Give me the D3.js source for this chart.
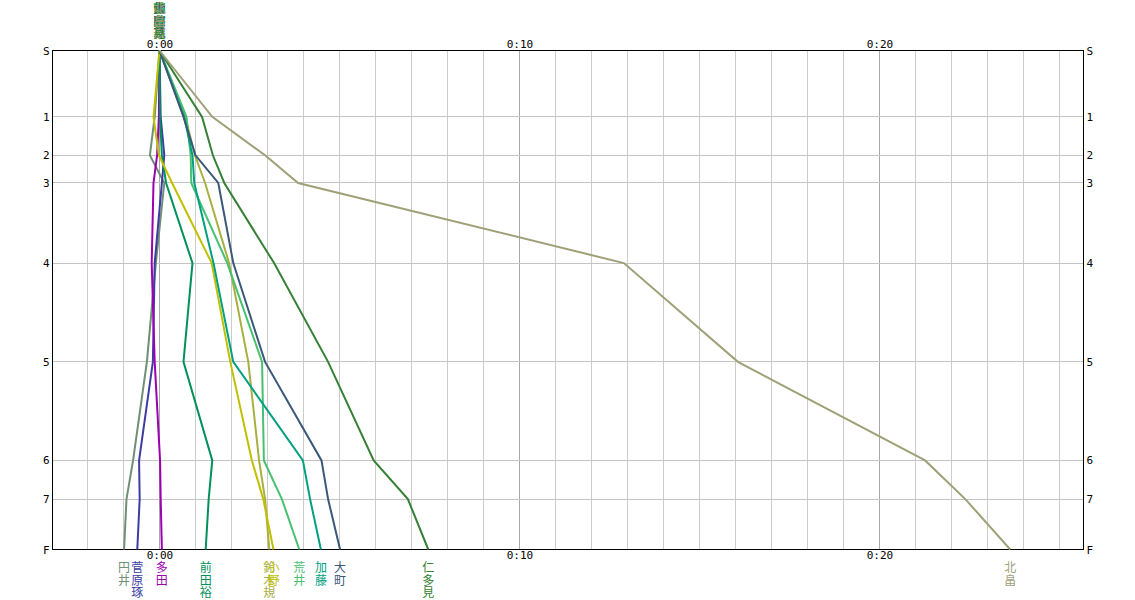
<!DOCTYPE html>
<html>
<head>
<meta charset="utf-8">
<script src="https://cdn.jsdelivr.net/npm/d3@7"></script>
<style>
  html, body { margin: 0; padding: 0; background: #ffffff; }
  svg { display: block; }
  .tick-lbl { font-family: "DejaVu Sans Mono", "Liberation Mono", monospace; font-size: 11px; fill: #000; }
  .name { font-family: "Noto Sans CJK JP", sans-serif; font-size: 12px; }
</style>
</head>
<body>
<svg id="chart" width="1135" height="600"></svg>
<script>
// ---- data ----
const checkpoints = ["S", "1", "2", "3", "4", "5", "6", "7", "F"];
// relative cumulative distance of each checkpoint (finish = 100)
const checkpointDist = [0, 13.3, 21.0, 26.55, 42.6, 62.4, 82.15, 89.9, 100];
const timeTicks = [0, 600, 1200];           // seconds -> 0:00, 0:10, 0:20
const runners = ["円井", "菅原琢", "多田", "前田裕", "鈴木規", "小野", "荒井", "加藤", "大町", "仁多見", "北畠"];
// gap (seconds) at each checkpoint
const gap円井   = [0, -8, -16, 8, -6, -21, -44, -55, -59];
const gap菅原琢 = [0, 2, 8, 4, -8, -11, -34, -33, -37];
const gap多田   = [0, -1, -4, -10, -13, -8, 1, 2, 4];
const gap前田裕 = [0, 1, 4, 11, 55, 40, 88, 82, 77];
const gap鈴木規 = [0, 43, 59, 76, 116, 148, 166, 176, 183];
const gap小野   = [0, -10, -1, 21, 87, 118, 154, 173, 190];
const gap荒井   = [0, 45, 52, 53, 113, 171, 174, 204, 233];
const gap加藤   = [0, 41, 55, 58, 90, 123, 239, 251, 269];
const gap大町   = [0, 40, 60, 98, 123, 176, 270, 281, 301];
const gap仁多見 = [0, 71, 89, 108, 191, 281, 357, 414, 448];
const gap北畠   = [0, 88, 176, 231, 774, 964, 1276, 1343, 1418];
const gaps = [gap円井, gap菅原琢, gap多田, gap前田裕, gap鈴木規, gap小野, gap荒井, gap加藤, gap大町, gap仁多見, gap北畠];

// ---- styles ----
const colors = ["#6f8f76", "#3c3ca4", "#9c00b0", "#00905a", "#a8b040", "#c0c000", "#48c070", "#00a080", "#3a5878", "#358035", "#a0a078"];

// ---- layout ----
const L = 52.5, R = 1083.5, T = 50.5, B = 549.5;
const svg = d3.select("#chart");
const x = d3.scaleLinear().domain([-178.3, 1540]).range([L, R]);
const y = d3.scaleLinear().domain([0, 100]).range([T, B]);

// vertical minute grid
const minuteTicks = d3.range(-120, 1541, 60);
svg.append("g").selectAll("line").data(minuteTicks).join("line")
  .attr("x1", d => Math.round(x(d)) + 0.5).attr("x2", d => Math.round(x(d)) + 0.5)
  .attr("y1", T).attr("y2", B)
  .attr("stroke", d => d % 600 === 0 ? "#a8a8a8" : "#cccccc")
  .attr("stroke-width", 1).attr("shape-rendering", "crispEdges");

// horizontal checkpoint grid
svg.append("g").selectAll("line").data(checkpointDist).join("line")
  .attr("x1", L).attr("x2", R)
  .attr("y1", d => Math.round(y(d) - 0.5) + 0.5).attr("y2", d => Math.round(y(d) - 0.5) + 0.5)
  .attr("stroke", "#c4c4c4").attr("stroke-width", 1).attr("shape-rendering", "crispEdges");

// frame
svg.append("rect").attr("x", L).attr("y", T).attr("width", R - L).attr("height", B - T)
  .attr("fill", "none").attr("stroke", "#000").attr("stroke-width", 1).attr("shape-rendering", "crispEdges");

// axes
const fmt = s => Math.floor(s / 3600) + ":" + String(Math.round(s / 60) % 60).padStart(2, "0");
const topAxis = d3.axisTop(x).tickValues(timeTicks).tickFormat(fmt).tickSize(0).tickPadding(3);
const botAxis = d3.axisBottom(x).tickValues(timeTicks).tickFormat(fmt).tickSize(0).tickPadding(2);
const leftAxis = d3.axisLeft(y).tickValues(checkpointDist).tickFormat((d, i) => checkpoints[i]).tickSize(0).tickPadding(3);
const rightAxis = d3.axisRight(y).tickValues(checkpointDist).tickFormat((d, i) => checkpoints[i]).tickSize(0).tickPadding(3);

function styleAxis(g) {
  g.select(".domain").remove();
  g.selectAll("text").attr("class", "tick-lbl").attr("font-family", null).attr("font-size", null);
}
svg.append("g").attr("transform", `translate(0,${T})`).call(topAxis).call(styleAxis);
svg.append("g").attr("transform", `translate(0,${B})`).call(botAxis).call(styleAxis);
svg.append("g").attr("transform", `translate(${L},0)`).call(leftAxis).call(styleAxis);
svg.append("g").attr("transform", `translate(${R},0)`).call(rightAxis).call(styleAxis);

// runner lines
const line = d3.line().x(d => x(d.g)).y(d => y(d.d));
const series = runners.map((n, i) => ({
  name: n, color: colors[i],
  pts: gaps[i].map((g, k) => ({ g, d: checkpointDist[k] }))
}));
svg.append("g").selectAll("path").data(series).join("path")
  .attr("d", s => line(s.pts))
  .attr("fill", "none").attr("stroke", s => s.color).attr("stroke-width", 2)
  .attr("stroke-linejoin", "miter");

// vertical names
function vname(g, s, cx, top) {
  const t = g.append("g");
  Array.from(s.name).forEach((ch, k) => {
    t.append("text").attr("class", "name")
      .attr("x", cx).attr("y", top + k * 12.5)
      .attr("text-anchor", "middle").attr("dominant-baseline", "hanging")
      .attr("fill", s.color).text(ch);
  });
}
const names = svg.append("g");
series.forEach(s => {
  vname(names, s, x(s.pts[s.pts.length - 1].g), 561);
  vname(names, s, x(s.pts[0].g), 2);
});
</script>
</body>
</html>
